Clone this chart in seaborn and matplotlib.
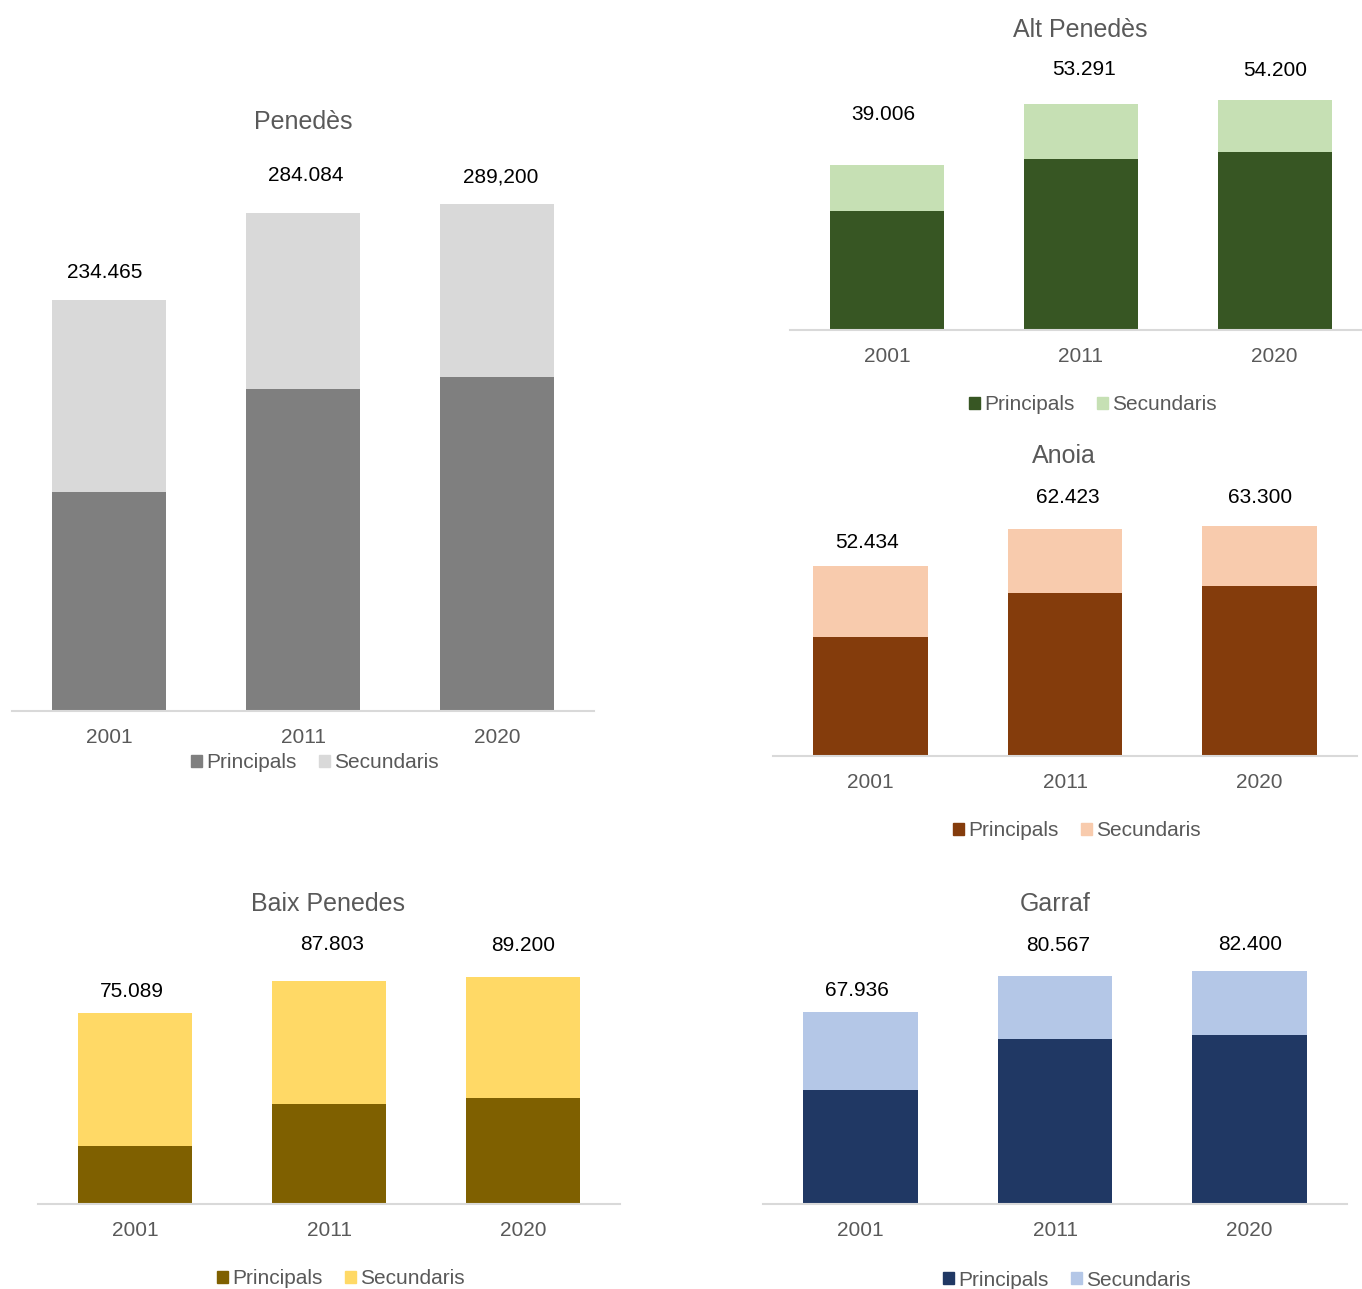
import matplotlib
matplotlib.use("Agg")
import matplotlib.pyplot as plt
import seaborn as sns
import pandas as pd
from matplotlib.patches import Patch

# dades (llegides del grafic)
anys = ["2001", "2011", "2020"]

penedes_total = [234465, 284084, 289200]
penedes_princ = [125000, 183700, 190500]
penedes_etiq = ["234.465", "284.084", "289,200"]

alt_total = [39006, 53291, 54200]
alt_princ = [28100, 40300, 42000]
alt_etiq = ["39.006", "53.291", "54.200"]

anoia_total = [52434, 62423, 63300]
anoia_princ = [32800, 44900, 46800]
anoia_etiq = ["52.434", "62.423", "63.300"]

baix_total = [75089, 87803, 89200]
baix_princ = [22800, 39300, 41700]
baix_etiq = ["75.089", "87.803", "89.200"]

garraf_total = [67936, 80567, 82400]
garraf_princ = [40300, 58300, 59800]
garraf_etiq = ["67.936", "80.567", "82.400"]

W, H = 1362, 1289
sns.set_theme(style="white")
plt.rcParams['font.family'] = ['Liberation Sans', 'DejaVu Sans']
fig = plt.figure(figsize=(W / 100, H / 100), dpi=100)
GRIS = "#595959"


def fx(x):
    return x / W


def fy(y):
    return 1 - y / H


def panell(titol, total, princ, etiq, c_princ, c_sec, caixa, ymax, xmax, tit_xy, leg_xy, offs, tick_pad):
    x0, x1, ytop, ybase = caixa
    ax = fig.add_axes([fx(x0), fy(ybase), (x1 - x0) / W, (ybase - ytop) / H])
    df = pd.DataFrame({"any": anys, "total": total, "princ": princ})
    # total (secundaris) al fons, principals a sobre -> apilat
    sns.barplot(data=df, x="any", y="total", color=c_sec, width=0.59, saturation=1, linewidth=0, ax=ax)
    sns.barplot(data=df, x="any", y="princ", color=c_princ, width=0.59, saturation=1, linewidth=0, ax=ax)
    ax.set_xlim(-0.5, xmax)
    ax.set_ylim(0, ymax)
    ax.set_xlabel("")
    ax.set_ylabel("")
    ax.set_yticks([])
    for s in ["top", "left", "right"]:
        ax.spines[s].set_visible(False)
    ax.spines["bottom"].set_color("#d9d9d9")
    ax.spines["bottom"].set_linewidth(1.5)
    ax.tick_params(axis="x", length=0, pad=tick_pad, labelsize=15, labelcolor=GRIS)
    for i, (t, e) in enumerate(zip(total, etiq)):
        ax.annotate(e, xy=(i, t), xytext=(offs[i][0], offs[i][1] - 2), textcoords="offset pixels",
                    ha="center", va="center", fontsize=15, color="black", annotation_clip=False)
    fig.text(fx(tit_xy[0]), fy(tit_xy[1] + 2), titol, ha="center", va="center", fontsize=18, color=GRIS)
    handles = [Patch(color=c_princ, label="Principals"), Patch(color=c_sec, label="Secundaris")]
    fig.legend(handles=handles, loc="center", bbox_to_anchor=(fx(leg_xy[0]), fy(leg_xy[1] + 2)),
               ncol=2, frameon=False, fontsize=15, labelcolor=GRIS, handlelength=0.5,
               handleheight=0.5, handletextpad=0.2, columnspacing=1.1, borderpad=0)


panell("Penedès", penedes_total, penedes_princ, penedes_etiq, "#7f7f7f", "#d9d9d9",
       (12, 594, 150, 711), 561 * 570.5, 2.5, (303, 120), (315, 761),
       [(-4, 30), (3, 40), (4, 29)], 12)
panell("Alt Penedès", alt_total, alt_princ, alt_etiq, "#375623", "#c6e0b4",
       (790, 1362, 40, 330), 290 * 235.8, 2.45, (1080, 28), (1093, 403),
       [(-4, 52), (3, 36), (0, 32)], 12)
panell("Anoia", anoia_total, anoia_princ, anoia_etiq, "#843c0c", "#f8cbad",
       (773, 1357, 470, 756), 286 * 275.5, 2.5, (1064, 454), (1077, 829),
       [(-3, 25), (3, 34), (0, 31)], 12)
panell("Baix Penedes", baix_total, baix_princ, baix_etiq, "#7f6000", "#ffd966",
       (38, 620, 920, 1204), 284 * 393.3, 2.5, (328, 902), (341, 1277),
       [(-3, 24), (3, 38), (0, 34)], 12)
panell("Garraf", garraf_total, garraf_princ, garraf_etiq, "#203864", "#b4c7e7",
       (763, 1347, 920, 1204), 284 * 353.6, 2.5, (1055, 902), (1067, 1278),
       [(-3, 23), (3, 33), (0, 28)], 12)

fig.savefig("out.png", dpi=100)
